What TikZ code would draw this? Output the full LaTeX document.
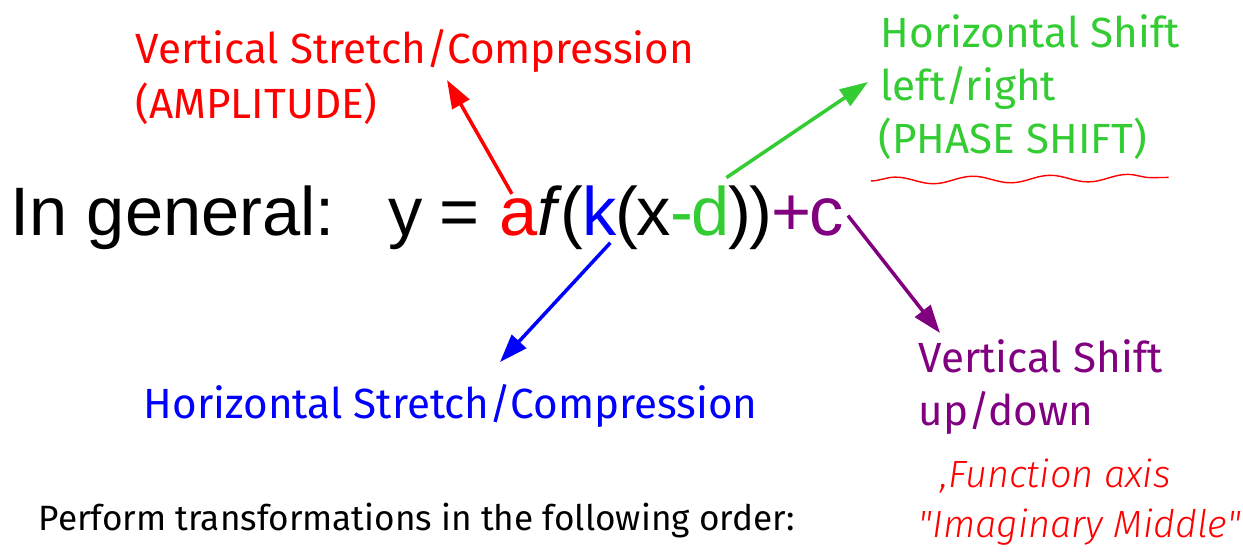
\documentclass[tikz,border=0pt]{standalone}
\usepackage{fontspec}
\setmainfont{Liberation Sans}
\newfontfamily\eqfont{Liberation Sans}[LetterSpace=-3]
\newfontfamily\comicfont{Fira Sans}
\newfontfamily\handfont{Fira Sans Light}
\usetikzlibrary{arrows.meta,decorations.pathmorphing}
\definecolor{hgreen}{RGB}{51,204,51}
\definecolor{vpurple}{RGB}{128,0,128}
\begin{document}
\begin{tikzpicture}[x=0.01cm, y=-0.01cm,
    lbl/.style={anchor=base west, inner sep=0pt, font=\comicfont\fontsize{12}{14}\selectfont},
    eq/.style={anchor=base west, inner sep=0pt, font=\eqfont\fontsize{19.5}{23}\selectfont},
    hand/.style={anchor=base west, inner sep=0pt, red, font=\handfont\itshape\fontsize{10.8}{13}\selectfont},
    arr/.style={-{Triangle[length=8pt,width=5.5pt]}, line width=1pt}]
    \useasboundingbox (0,0) rectangle (1243,556);
    % equation
    \node (gen) at (10,235) [eq, font=\fontsize{19.5}{23}\selectfont] {In general:};
    \node (y) at (388,235) [eq] {y =\kern0.3em};
    \node (a) at ([xshift=-0.6pt]y.base east) [eq, red] {a};
    \node (f) at ([xshift=-0.6pt]a.base east) [eq] {\textit{f}(};
    \node (k) at ([xshift=-0.6pt]f.base east) [eq, blue] {k};
    \node (x) at ([xshift=-0.6pt]k.base east) [eq] {(x};
    \node (d) at ([xshift=-0.6pt]x.base east) [eq, hgreen] {-d};
    \node (p) at ([xshift=-0.6pt]d.base east) [eq] {))};
    \node (c) at ([xshift=-0.6pt]p.base east) [eq, vpurple] {+c};
    % labels
    \node (vs1) at (135,63) [lbl, red] {Vertical Stretch/Compression};
    \node (vs2) at (135,118) [lbl, red] {(AMPLITUDE)};
    \node (hs1) at (880,47) [lbl, hgreen] {Horizontal Shift};
    \node (hs2) at (880,100) [lbl, hgreen] {left/right};
    \node (hs3) at (878,153) [lbl, hgreen] {(PHASE SHIFT)};
    \node (hc) at (143,418) [lbl, blue] {Horizontal Stretch/Compression};
    \node (vsh1) at (918,372) [lbl, vpurple] {Vertical Shift};
    \node (vsh2) at (918,425) [lbl, vpurple] {up/down};
    \node (fa1) at (940,487) [hand] {,Function axis};
    \node (fa2) at (918,537) [hand] {"Imaginary Middle"};
    \node (ord) at (38,530) [lbl, font=\comicfont\fontsize{10}{12}\selectfont] {Perform transformations in the following order:};
    % arrow tips
    \coordinate (vsTip) at (447,80);
    \coordinate (hsTip) at (868,82);
    \coordinate (hcTip) at (500,362);
    \coordinate (vshTip) at (940,333);
    \draw[arr, red] ([xshift=-2pt,yshift=1pt]a.north) -- (vsTip);
    \draw[arr, hgreen] ([xshift=-1pt,yshift=2pt]d.north east) -- (hsTip);
    \draw[arr, blue] ([xshift=-2pt,yshift=-2pt]k.south east) -- (hcTip);
    \draw[arr, vpurple] ([xshift=1pt]c.east) -- (vshTip);
    \draw[red, decorate, decoration={snake, amplitude=1pt, segment length=22pt}]
        ([xshift=-2pt,yshift=-6pt]hs3.south west) -- ([xshift=6pt,yshift=-5pt]hs3.south east);
\end{tikzpicture}
\end{document}
